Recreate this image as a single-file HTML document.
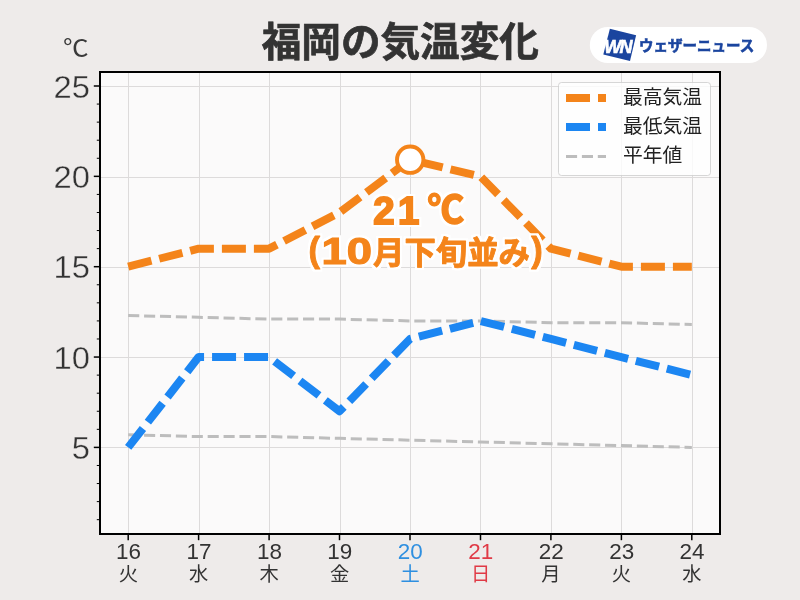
<!DOCTYPE html>
<html lang="ja">
<head>
<meta charset="utf-8">
<title>福岡の気温変化</title>
<style>
html,body{margin:0;padding:0;background:#EEEBEA;}
body{width:800px;height:600px;overflow:hidden;position:relative;font-family:"Liberation Sans", "Noto Sans CJK JP", sans-serif;}
svg{position:absolute;left:0;top:0;display:block;will-change:transform;}
text{font-family:"Liberation Sans", "Noto Sans CJK JP", sans-serif;}
</style>
</head>
<body>
<svg width="800" height="600" viewBox="0 0 800 600">
<rect x="100" y="72" width="620" height="462" fill="#FBFAFA"/>

<g stroke="#DDDBDB" stroke-width="1" shape-rendering="crispEdges">
<line x1="128.5" y1="72" x2="128.5" y2="534"/>
<line x1="199.5" y1="72" x2="199.5" y2="534"/>
<line x1="269.5" y1="72" x2="269.5" y2="534"/>
<line x1="340.5" y1="72" x2="340.5" y2="534"/>
<line x1="410.5" y1="72" x2="410.5" y2="534"/>
<line x1="480.5" y1="72" x2="480.5" y2="534"/>
<line x1="551.5" y1="72" x2="551.5" y2="534"/>
<line x1="621.5" y1="72" x2="621.5" y2="534"/>
<line x1="692.5" y1="72" x2="692.5" y2="534"/>
<line x1="100" y1="447.5" x2="720" y2="447.5"/>
<line x1="100" y1="357.5" x2="720" y2="357.5"/>
<line x1="100" y1="267.5" x2="720" y2="267.5"/>
<line x1="100" y1="177.5" x2="720" y2="177.5"/>
<line x1="100" y1="86.5" x2="720" y2="86.5"/>
</g>
<polyline points="128.18,315.49 198.63,317.30 269.09,319.10 339.54,319.10 410.00,320.91 480.45,320.91 550.91,322.72 621.36,322.72 691.82,324.52" fill="none" stroke="#BDBDBD" stroke-width="3" stroke-dasharray="11.1 4.8"/>
<polyline points="128.18,434.75 198.63,436.56 269.09,436.56 339.54,438.37 410.00,440.17 480.45,441.98 550.91,443.79 621.36,445.59 691.82,447.40" fill="none" stroke="#BDBDBD" stroke-width="3" stroke-dasharray="11.1 4.8"/>
<polyline points="128.18,447.40 198.63,357.05 269.09,357.05 339.54,411.26 410.00,338.98 480.45,320.91 550.91,338.98 621.36,357.05 691.82,375.12" fill="none" stroke="#1C86F2" stroke-width="8" stroke-dasharray="24 8" stroke-linejoin="round"/>
<polyline points="128.18,266.70 198.63,248.63 269.09,248.63 339.54,212.49 410.00,159.73 480.45,176.35 550.91,248.63 621.36,266.70 691.82,266.70" fill="none" stroke="#F4841A" stroke-width="8" stroke-dasharray="24 8" stroke-linejoin="round"/>
<circle cx="410.2" cy="159.7" r="13.2" fill="#FFFFFF" stroke="#F4841A" stroke-width="3.9"/>
<rect x="100" y="72" width="620" height="462" fill="none" stroke="#000" stroke-width="2"/>
<g stroke="#000" stroke-width="1.5">
<line x1="128.2" y1="535" x2="128.2" y2="540.2"/>
<line x1="198.6" y1="535" x2="198.6" y2="540.2"/>
<line x1="269.1" y1="535" x2="269.1" y2="540.2"/>
<line x1="339.5" y1="535" x2="339.5" y2="540.2"/>
<line x1="410.0" y1="535" x2="410.0" y2="540.2"/>
<line x1="480.5" y1="535" x2="480.5" y2="540.2"/>
<line x1="550.9" y1="535" x2="550.9" y2="540.2"/>
<line x1="621.4" y1="535" x2="621.4" y2="540.2"/>
<line x1="691.8" y1="535" x2="691.8" y2="540.2"/>
<line x1="93.8" y1="447.40" x2="99" y2="447.40"/>
<line x1="93.8" y1="357.05" x2="99" y2="357.05"/>
<line x1="93.8" y1="266.70" x2="99" y2="266.70"/>
<line x1="93.8" y1="176.35" x2="99" y2="176.35"/>
<line x1="93.8" y1="86.00" x2="99" y2="86.00"/>
</g>
<g stroke="#000" stroke-width="1">
<line x1="96.8" y1="519.68" x2="99" y2="519.68"/>
<line x1="96.8" y1="501.61" x2="99" y2="501.61"/>
<line x1="96.8" y1="483.54" x2="99" y2="483.54"/>
<line x1="96.8" y1="465.47" x2="99" y2="465.47"/>
<line x1="96.8" y1="429.33" x2="99" y2="429.33"/>
<line x1="96.8" y1="411.26" x2="99" y2="411.26"/>
<line x1="96.8" y1="393.19" x2="99" y2="393.19"/>
<line x1="96.8" y1="375.12" x2="99" y2="375.12"/>
<line x1="96.8" y1="338.98" x2="99" y2="338.98"/>
<line x1="96.8" y1="320.91" x2="99" y2="320.91"/>
<line x1="96.8" y1="302.84" x2="99" y2="302.84"/>
<line x1="96.8" y1="284.77" x2="99" y2="284.77"/>
<line x1="96.8" y1="248.63" x2="99" y2="248.63"/>
<line x1="96.8" y1="230.56" x2="99" y2="230.56"/>
<line x1="96.8" y1="212.49" x2="99" y2="212.49"/>
<line x1="96.8" y1="194.42" x2="99" y2="194.42"/>
<line x1="96.8" y1="158.28" x2="99" y2="158.28"/>
<line x1="96.8" y1="140.21" x2="99" y2="140.21"/>
<line x1="96.8" y1="122.14" x2="99" y2="122.14"/>
<line x1="96.8" y1="104.07" x2="99" y2="104.07"/>
</g>
<g fill="#333" stroke="#EEEBEA" stroke-width="0.35" font-size="31.5" text-anchor="end">
<text transform="translate(89.9,458.9) scale(1.04,1)">5</text>
<text transform="translate(89.9,368.6) scale(1.04,1)">10</text>
<text transform="translate(89.9,278.2) scale(1.04,1)">15</text>
<text transform="translate(89.9,187.8) scale(1.04,1)">20</text>
<text transform="translate(89.9,97.5) scale(1.04,1)">25</text>
</g>
<text transform="translate(88.6,56.3) scale(1.14,1)" fill="#3a3a3a" font-size="22.5" text-anchor="end">℃</text>
<g font-size="19.3" text-anchor="middle">
<text transform="translate(128.5,558.9) scale(1.06,1)" font-size="21.2" fill="#333">16</text>
<text x="128.3" y="580.7" fill="#333">火</text>
<text transform="translate(198.9,558.9) scale(1.06,1)" font-size="21.2" fill="#333">17</text>
<text x="198.7" y="580.7" fill="#333">水</text>
<text transform="translate(269.4,558.9) scale(1.06,1)" font-size="21.2" fill="#333">18</text>
<text x="269.2" y="580.7" fill="#333">木</text>
<text transform="translate(339.8,558.9) scale(1.06,1)" font-size="21.2" fill="#333">19</text>
<text x="339.6" y="580.7" fill="#333">金</text>
<text transform="translate(410.3,558.9) scale(1.06,1)" font-size="21.2" fill="#2E8FE0">20</text>
<text x="410.1" y="580.7" fill="#2E8FE0">土</text>
<text transform="translate(480.8,558.9) scale(1.06,1)" font-size="21.2" fill="#E03A46">21</text>
<text x="480.6" y="580.7" fill="#E03A46">日</text>
<text transform="translate(551.2,558.9) scale(1.06,1)" font-size="21.2" fill="#333">22</text>
<text x="551.0" y="580.7" fill="#333">月</text>
<text transform="translate(621.7,558.9) scale(1.06,1)" font-size="21.2" fill="#333">23</text>
<text x="621.5" y="580.7" fill="#333">火</text>
<text transform="translate(692.1,558.9) scale(1.06,1)" font-size="21.2" fill="#333">24</text>
<text x="691.9" y="580.7" fill="#333">水</text>
</g>
<text x="400.3" y="56.3" fill="#333" font-size="39.6" font-weight="bold" stroke="#333" stroke-width="0.7" text-anchor="middle">福岡の気温変化</text>
<rect x="589.8" y="26.9" width="177.2" height="36.2" rx="18.1" ry="18.1" fill="#FFFFFF"/>
<polygon points="609.9,28.8 636.1,35.3 630,60.9 603.3,54.4" fill="#1B459F"/>
<text x="617.6" y="52.7" fill="#FFFFFF" stroke="#FFFFFF" stroke-width="0.6" font-size="18" font-weight="bold" font-style="italic" text-anchor="middle" letter-spacing="-1.6">WN</text>
<text x="639" y="51.3" fill="#1B459F" stroke="#1B459F" stroke-width="0.6" font-size="14.5" font-weight="bold">ウェザーニュース</text>
<rect x="558.5" y="82.5" width="152" height="93" rx="3" ry="3" fill="#FFFFFF" fill-opacity="0.8" stroke="#CCCCCC" stroke-opacity="0.8" stroke-width="1"/>
<line x1="566" y1="98" x2="606" y2="98" stroke="#F4841A" stroke-width="8" stroke-dasharray="24 8"/>
<line x1="566" y1="127" x2="606" y2="127" stroke="#1C86F2" stroke-width="8" stroke-dasharray="24 8"/>
<line x1="566" y1="156.4" x2="606" y2="156.4" stroke="#BDBDBD" stroke-width="3" stroke-dasharray="11.1 4.8"/>
<g fill="#222" font-size="19.8">
<text x="623" y="104.3">最高気温</text>
<text x="623" y="133.3">最低気温</text>
<text x="623" y="162.3">平年値</text>
</g>
<defs><filter id="halo" x="-5%" y="-20%" width="110%" height="140%" color-interpolation-filters="sRGB"><feMorphology in="SourceAlpha" operator="dilate" radius="2" result="d"/><feGaussianBlur in="d" stdDeviation="0.5" result="db"/><feFlood flood-color="#FFFFFF" result="fw"/><feComposite in="fw" in2="db" operator="in" result="w"/><feMerge><feMergeNode in="w"/><feMergeNode in="w"/><feMergeNode in="SourceGraphic"/></feMerge></filter></defs>
<g filter="url(#halo)" fill="#F4841A" stroke="#F4841A" font-weight="bold">
<text y="223.8" font-size="38.4" stroke-width="1.9"><tspan x="373.3" textLength="49.6" lengthAdjust="spacingAndGlyphs" letter-spacing="3.5">21</tspan><tspan x="427.4" y="223.4" font-size="38" stroke-width="1.5" textLength="36.6" lengthAdjust="spacingAndGlyphs">℃</tspan></text>
<text font-size="31.4" stroke-width="0.9" stroke-linejoin="round"><tspan x="308.6" y="262.2" font-size="34.5">(</tspan><tspan x="321.6" y="263.7" font-size="36" stroke-width="1.1" stroke-linejoin="miter" textLength="50.5" lengthAdjust="spacingAndGlyphs">10</tspan><tspan x="373" y="263.5">月下旬並み</tspan><tspan x="531.3" y="262.2" font-size="34.5">)</tspan></text>
</g>
</svg>
</body>
</html>
